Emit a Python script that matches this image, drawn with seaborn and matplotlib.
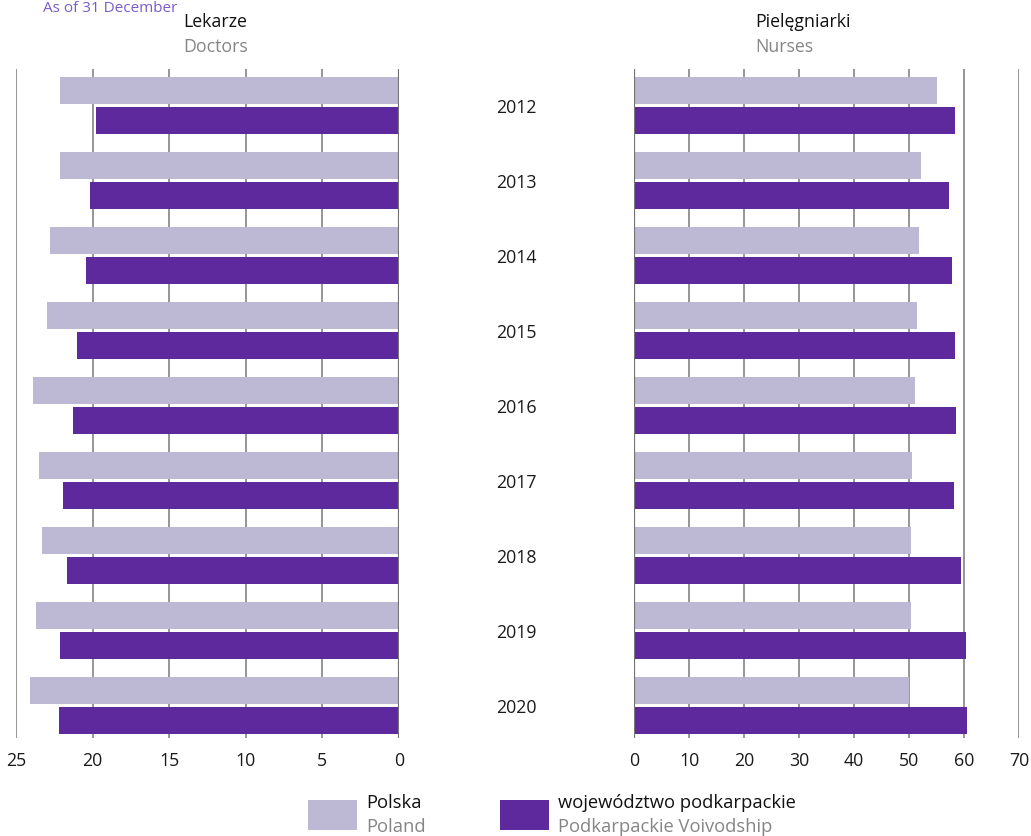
import matplotlib
matplotlib.use("Agg")
import matplotlib.pyplot as plt
from matplotlib.patches import Rectangle
import seaborn as sns
import pandas as pd

years = ["2012", "2013", "2014", "2015", "2016", "2017", "2018", "2019", "2020"]
series = ["Polska", "województwo podkarpackie"]
doctors_pl = [22.1, 22.1, 22.8, 23.0, 23.9, 23.5, 23.3, 23.7, 24.1]
doctors_pk = [19.8, 20.2, 20.4, 21.0, 21.3, 21.9, 21.7, 22.1, 22.2]
nurses_pl = [55.0, 52.1, 51.9, 51.4, 51.0, 50.5, 50.3, 50.3, 50.0]
nurses_pk = [58.3, 57.2, 57.9, 58.3, 58.5, 58.1, 59.4, 60.3, 60.5]
doc_ticks = [25, 20, 15, 10, 5, 0]
nur_ticks = [0, 10, 20, 30, 40, 50, 60, 70]

LIGHT = "#bdb8d4"
DARK = "#5e299d"
GRAYTXT = "#858585"
GRID = "#969696"
SPINE = "#747474"

def long_df(pl, pk):
    return pd.DataFrame({
        "year": years * 2,
        "value": pl + pk,
        "series": [series[0]] * len(years) + [series[1]] * len(years),
    })

sns.set_style("white")
plt.rcParams["font.family"] = ["Open Sans", "DejaVu Sans"]
plt.rcParams["font.size"] = 12.5

W, H = 1031, 836
fig = plt.figure(figsize=(W / 100, H / 100), dpi=100)

def fx(px):
    return px / W

def fy(py):
    return 1 - py / H

ax_bottom, ax_top = 738, 69
axL = fig.add_axes([fx(16), fy(ax_bottom), fx(399) - fx(16), (ax_bottom - ax_top) / H])
axR = fig.add_axes([fx(634), fy(ax_bottom), fx(1019) - fx(634), (ax_bottom - ax_top) / H])

pal = {series[0]: LIGHT, series[1]: DARK}
for ax, (pl, pk), ticks, lim in [
    (axL, (doctors_pl, doctors_pk), doc_ticks, (25, 0)),
    (axR, (nurses_pl, nurses_pk), nur_ticks, (0, 70)),
]:
    sns.barplot(data=long_df(pl, pk), x="value", y="year", hue="series",
                order=years, hue_order=series, palette=pal, orient="h",
                width=0.8, gap=0.1, linewidth=0, saturation=1,
                legend=False, ax=ax, zorder=3)
    ax.set_xlim(*lim)
    ax.set_ylim(8.433, -0.487)
    ax.set_xticks(ticks)
    ax.set_xticklabels([str(t) for t in ticks])
    ax.set_xlabel("")
    ax.set_ylabel("")
    ax.grid(axis="x", color=GRID, linewidth=1.4, zorder=0)
    ax.grid(axis="y", visible=False)
    for s in ["top", "bottom", "left", "right"]:
        ax.spines[s].set_visible(False)
    ax.tick_params(axis="x", length=0, pad=10, labelsize=12.8, colors="#1a1a1a")
    ax.set_axisbelow(True)

# zero lines
axL.axvline(0, color=SPINE, linewidth=1.6, zorder=4)
axR.axvline(0, color=SPINE, linewidth=1.6, zorder=4)

axL.set_yticks([])
axR.set_yticks(range(len(years)))
axR.set_yticklabels(years)
axR.tick_params(axis="y", length=0, pad=85, labelsize=12.8, colors="#1a1a1a")
for lab in axR.get_yticklabels():
    lab.set_ha("center")

# titles
fig.text(fx(183), fy(22), "Lekarze", ha="left", va="center", fontsize=12.8, color="#111111")
fig.text(fx(183), fy(47), "Doctors", ha="left", va="center", fontsize=12.8, color=GRAYTXT)
fig.text(fx(755), fy(22), "Pielęgniarki", ha="left", va="center", fontsize=12.8, color="#111111")
fig.text(fx(755), fy(47), "Nurses", ha="left", va="center", fontsize=12.8, color=GRAYTXT)

# subtitle at the very top (cut off in the reference; kept fully visible here)
fig.text(fx(177), fy(1), "As of 31 December", ha="right", va="top",
         fontsize=11, color="#7a5cc6")

# legend
for x0, col, t1, t2 in [(308, LIGHT, "Polska", "Poland"),
                        (500, DARK, "województwo podkarpackie", "Podkarpackie Voivodship")]:
    fig.patches.append(Rectangle((fx(x0), fy(830)), fx(49), 30 / H,
                                 transform=fig.transFigure, facecolor=col,
                                 edgecolor="none"))
    fig.text(fx(x0 + 58), fy(803), t1, ha="left", va="center", fontsize=13.2, color="#111111")
    fig.text(fx(x0 + 58), fy(827), t2, ha="left", va="center", fontsize=13.2, color=GRAYTXT)

fig.savefig("out.png", dpi=100, facecolor="white")
